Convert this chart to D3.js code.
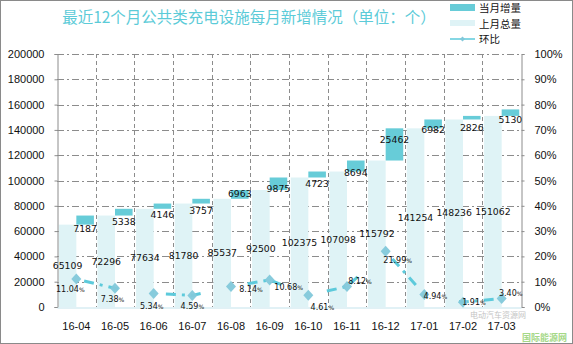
<!DOCTYPE html>
<html><head><meta charset="utf-8">
<script src="https://cdn.jsdelivr.net/npm/d3@7"></script>
<style>
html,body{margin:0;padding:0;background:#fff;}
svg{display:block;}
</style></head>
<body>
<svg id="chart" width="573" height="344"></svg>
<script>
// ---- data ----
const categories = ["16-04","16-05","16-06","16-07","16-08","16-09","16-10","16-11","16-12","17-01","17-02","17-03"];
const prevTotal  = [65109,72296,77634,81780,85537,92500,102375,107098,115792,141254,148236,151062];
const increment  = [7187,5338,4146,3757,6963,9875,4723,8694,25462,6982,2826,5130];
const momPct     = [11.04,7.38,5.34,4.59,8.14,10.68,4.61,8.12,21.99,4.94,1.91,3.40];
const leftTicks  = [0,20000,40000,60000,80000,100000,120000,140000,160000,180000,200000];
const rightTicks = [0,10,20,30,40,50,60,70,80,90,100];
const titleText  = "最近12个月公共类充电设施每月新增情况（单位：个）";
const legendLabels = ["当月增量","上月总量","环比"];

// ---- label placement (layout only) ----
const incLabelDy = [4,6,6,7,-5,-1,6.5,1.2,-20.5,1.7,8,3.4];
const pctLabelOff = [[-6,10],[-2.5,10.7],[-2,13],[0,10.6],[20,3],[19,7],[14,12],[13,-5],[12,9],[11,2],[11,0.5],[9,-5]];

(function(){
const svg = d3.select("#chart");
const dark = "#67ccd8", light = "#dff3f6", lineC = "#5dcadb", markC = "#82c8da";
const pL = 57, pR = 521, pT = 54, pB = 307;

const x = d3.scaleBand().domain(categories).range([pL, pR]).padding(0);
const sub = d3.scaleBand().domain(["prev","inc"]).range([0, x.bandwidth()]).paddingInner(0).paddingOuter(0.1);
const y = d3.scaleLinear().domain([0,200000]).range([pB, pT]);
const y2 = d3.scaleLinear().domain([0,100]).range([pB, pT]);

// border
svg.append("rect").attr("x",0.5).attr("y",0.5).attr("width",572).attr("height",343)
  .attr("fill","none").attr("stroke","#8a8a8a");

// horizontal grid
svg.append("g").selectAll("line").data(leftTicks.filter(d=>d>0)).join("line")
  .attr("x1",pL).attr("x2",pR).attr("y1",d=>Math.round(y(d))+0.5).attr("y2",d=>Math.round(y(d))+0.5)
  .attr("stroke","#8c8c8c").attr("stroke-width",1).attr("stroke-dasharray","7,3,2,3");
// vertical grid
svg.append("g").selectAll("line").data(categories.slice(1)).join("line")
  .attr("x1",d=>Math.round(x(d))+0.5).attr("x2",d=>Math.round(x(d))+0.5).attr("y1",pT).attr("y2",pB)
  .attr("stroke","#8c8c8c").attr("stroke-width",1).attr("stroke-dasharray","4,3");

// bars: previous total
svg.append("g").selectAll("rect").data(categories).join("rect")
  .attr("x",(d)=>x(d)+sub("prev")).attr("width",sub.bandwidth())
  .attr("y",(d,i)=>y(prevTotal[i])).attr("height",(d,i)=>y(0)-y(prevTotal[i]))
  .attr("fill",light);
// bars: increment (floating)
svg.append("g").selectAll("rect").data(categories).join("rect")
  .attr("x",(d)=>x(d)+sub("inc")).attr("width",sub.bandwidth())
  .attr("y",(d,i)=>y(prevTotal[i]+increment[i])).attr("height",(d,i)=>y(prevTotal[i])-y(prevTotal[i]+increment[i]))
  .attr("fill",dark);

// axes
const axL = svg.append("g").attr("transform",`translate(${pL+0.5},0)`)
  .call(d3.axisLeft(y).tickValues(leftTicks).tickSize(3).tickPadding(10).tickFormat(d3.format("d")));
const axR = svg.append("g").attr("transform",`translate(${pR+0.5},0)`)
  .call(d3.axisRight(y2).tickValues(rightTicks).tickSize(3).tickPadding(10).tickFormat(d=>d+"%"));
[axL,axR].forEach(a=>{
  a.select(".domain").attr("stroke","#8c8c8c");
  a.selectAll(".tick line").attr("stroke","#8c8c8c");
  a.selectAll("text").attr("font-family","'Liberation Sans',Arial,sans-serif").attr("font-size",11).attr("fill","#111");
});
const axB = svg.append("g").attr("transform",`translate(0,${pB+0.5})`)
  .call(d3.axisBottom(x).tickSize(0).tickPadding(15));
axB.select(".domain").attr("stroke","#c3e3ec");
axB.selectAll("text").attr("font-family","'Liberation Sans',Arial,sans-serif").attr("font-size",11).attr("fill","#111");

// labels for bars
const lblFont = "'DejaVu Sans',sans-serif";
svg.append("g").selectAll("text").data(categories).join("text")
  .attr("x",d=>x(d)+sub("prev")+sub.bandwidth()/2)
  .attr("y",(d,i)=>(y(prevTotal[i])+y(0))/2)
  .attr("dy","0.35em").attr("text-anchor","middle")
  .attr("font-family",lblFont).attr("font-size",9.3).attr("fill","#111")
  .text((d,i)=>prevTotal[i]);
svg.append("g").selectAll("text").data(categories).join("text")
  .attr("x",d=>x(d)+sub("inc")+sub.bandwidth()/2)
  .attr("y",(d,i)=>y(prevTotal[i])+incLabelDy[i])
  .attr("dy","0.35em").attr("text-anchor","middle")
  .attr("font-family",lblFont).attr("font-size",9.3).attr("fill","#111")
  .text((d,i)=>increment[i]);

// line
const pts = categories.map((c,i)=>[x(c)+x.bandwidth()/2, y2(momPct[i])]);
svg.append("path").datum(pts).attr("d",d3.line())
  .attr("fill","none").attr("stroke",lineC).attr("stroke-width",3)
  .attr("stroke-dasharray","0,8,10,6,3,6,10,40");
svg.append("g").selectAll("path").data(pts).join("path")
  .attr("d",d=>`M${d[0]},${d[1]-5.5}L${d[0]+5},${d[1]}L${d[0]},${d[1]+5.5}L${d[0]-5},${d[1]}Z`)
  .attr("fill",markC).attr("opacity",0.95);
// pct labels
const pl = svg.append("g").selectAll("text").data(categories).join("text")
  .attr("x",(d,i)=>pts[i][0]+pctLabelOff[i][0])
  .attr("y",(d,i)=>pts[i][1]+pctLabelOff[i][1])
  .attr("dy","0.35em").attr("text-anchor","middle")
  .attr("font-family",lblFont).attr("font-size",8).attr("fill","#111");
pl.append("tspan").text((d,i)=>momPct[i].toFixed(2));
pl.append("tspan").attr("font-size",6).text("%");

// title
svg.append("text").attr("x",249).attr("y",23).attr("text-anchor","middle")
  .attr("font-family","'Noto Sans CJK SC',sans-serif").attr("font-size",15.5).attr("fill","#5ccbd8")
  .text(titleText);

// legend
const lg = svg.append("g").attr("font-family","'Noto Sans CJK SC',sans-serif").attr("font-size",10.5).attr("fill","#111");
lg.append("rect").attr("x",450).attr("y",4).attr("width",25).attr("height",7).attr("fill",dark);
lg.append("rect").attr("x",450).attr("y",20).attr("width",25).attr("height",6).attr("fill",light);
lg.append("line").attr("x1",450).attr("x2",475).attr("y1",39).attr("y2",39).attr("stroke",lineC).attr("stroke-width",1.5);
lg.append("path").attr("d","M462.5,36.5L465,39L462.5,41.5L460,39Z").attr("fill",markC);
legendLabels.forEach((t,i)=>{
  lg.append("text").attr("x",479).attr("y",[8,24,39][i]).attr("dy","0.35em").text(t);
});

// watermark
svg.append("text").attr("x",470).attr("y",318).attr("font-family","'Noto Sans CJK SC',sans-serif")
  .attr("font-size",8).attr("fill","#b5b5b5").attr("opacity",0.8).text("电动汽车资源网");
svg.append("text").attr("x",522).attr("y",341).attr("font-family","'Noto Sans CJK SC',sans-serif")
  .attr("font-size",9).attr("font-weight","bold").attr("fill","#8fcf6a").attr("opacity",0.8).text("国际能源网");
})();
</script>
</body></html>
